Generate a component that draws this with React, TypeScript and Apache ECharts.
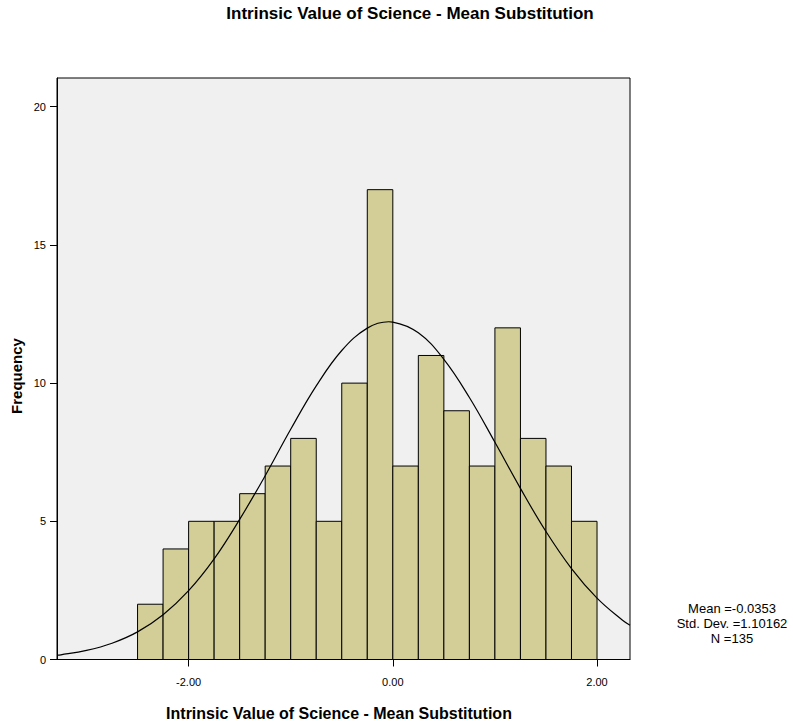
import React, { useEffect, useRef } from "react";
import * as echarts from "echarts";

const binStarts = [-2.5, -2.25, -2.0, -1.75, -1.5, -1.25, -1.0, -0.75, -0.5, -0.25, 0.0, 0.25, 0.5, 0.75, 1.0, 1.25, 1.5, 1.75];
const binWidth = 0.25;
const frequencies = [2, 4, 5, 5, 6, 7, 8, 5, 10, 17, 7, 11, 9, 7, 12, 8, 7, 5];

const curveX = [-3.289, -3.25, -3.0, -2.75, -2.5, -2.25, -2.0, -1.75, -1.5, -1.25, -1.0, -0.75, -0.5, -0.25, -0.04, 0.0, 0.25, 0.5, 0.75, 1.0, 1.25, 1.5, 1.75, 2.0, 2.25, 2.323];
const curveY = [0.16, 0.17, 0.33, 0.59, 1.0, 1.62, 2.49, 3.64, 5.07, 6.65, 8.33, 9.9, 11.18, 11.99, 12.22, 12.21, 11.82, 10.86, 9.48, 7.86, 6.19, 4.63, 3.29, 2.22, 1.42, 1.24];

const xTicks = [-2, 0, 2];
const yTicks = [0, 5, 10, 15, 20];

const titleText = "Intrinsic Value of Science - Mean Substitution";
const xName = "Intrinsic Value of Science - Mean Substitution";
const yName = "Frequency";
const statsLines = ["Mean =-0.0353", "Std. Dev. =1.10162", "N =135"];

const FONT = "'Liberation Sans', Arial, Helvetica, sans-serif";

export default function App() {
  const ref = useRef<HTMLDivElement>(null);
  useEffect(() => {
    if (!ref.current) return;
    const chart = echarts.init(ref.current, undefined, { renderer: "svg" });
    const bins = binStarts.map((s, i) => [s, s + binWidth, frequencies[i]]);
    const curve = curveX.map((x, i) => [x, curveY[i]]);
    chart.setOption({
      animation: false,
      backgroundColor: "#ffffff",
      textStyle: { fontFamily: FONT },
      grid: {
        left: 57,
        top: 78,
        right: 163,
        bottom: 63.5,
        show: true,
        backgroundColor: "#f0f0f0",
        borderColor: "#000",
        borderWidth: 1,
      },
      xAxis: {
        type: "value",
        min: -3.289,
        max: 2.323,
        splitLine: { show: false },
        axisLine: { show: true, onZero: false, lineStyle: { color: "#000", width: 1 } },
        axisTick: { show: true, customValues: xTicks, length: 7, lineStyle: { color: "#000" } },
        axisLabel: {
          customValues: xTicks,
          formatter: (v: number) => v.toFixed(2),
          color: "#000",
          fontSize: 11,
          fontFamily: FONT,
          margin: 17,
        },
      },
      yAxis: {
        type: "value",
        min: 0,
        max: 21.04,
        interval: 5,
        splitLine: { show: false },
        axisLine: { show: true, onZero: false, lineStyle: { color: "#000", width: 1 } },
        axisTick: { show: true, customValues: yTicks, length: 7, lineStyle: { color: "#000" } },
        axisLabel: {
          customValues: yTicks,
          color: "#000",
          fontSize: 11,
          fontFamily: FONT,
          margin: 11,
        },
      },
      series: [
        {
          type: "custom",
          data: bins,
          encode: { x: [0, 1], y: 2 },
          renderItem: (params: any, api: any) => {
            const p0 = api.coord([api.value(0), api.value(2)]);
            const p1 = api.coord([api.value(1), 0]);
            return {
              type: "rect",
              shape: { x: p0[0], y: p0[1], width: p1[0] - p0[0], height: p1[1] - p0[1] },
              style: { fill: "#d3ce97", stroke: "#000", lineWidth: 1 },
            };
          },
          z: 2,
        },
        {
          type: "line",
          data: curve,
          smooth: 0.4,
          showSymbol: false,
          symbol: "none",
          lineStyle: { color: "#000", width: 1.2 },
          z: 3,
        },
      ],
      graphic: [
        {
          type: "text",
          x: 410,
          y: 13,
          style: { text: titleText, font: `bold 17px ${FONT}`, fill: "#000", align: "center", verticalAlign: "middle" },
        },
        {
          type: "text",
          x: 339,
          y: 713,
          style: { text: xName, font: `bold 16px ${FONT}`, fill: "#000", align: "center", verticalAlign: "middle" },
        },
        {
          type: "text",
          x: 16,
          y: 376,
          rotation: Math.PI / 2,
          style: { text: yName, font: `bold 15px ${FONT}`, fill: "#000", align: "center", verticalAlign: "middle" },
        },
        ...statsLines.map((t, i) => ({
          type: "text",
          x: 732,
          y: 608 + i * 15,
          style: { text: t, font: `13px ${FONT}`, fill: "#000", align: "center", verticalAlign: "middle" },
        })),
      ],
    });
    return () => chart.dispose();
  }, []);
  return (
    <div
      ref={ref}
      style={{ position: "absolute", left: 0, top: 0, width: 793, height: 723 }}
    />
  );
}
